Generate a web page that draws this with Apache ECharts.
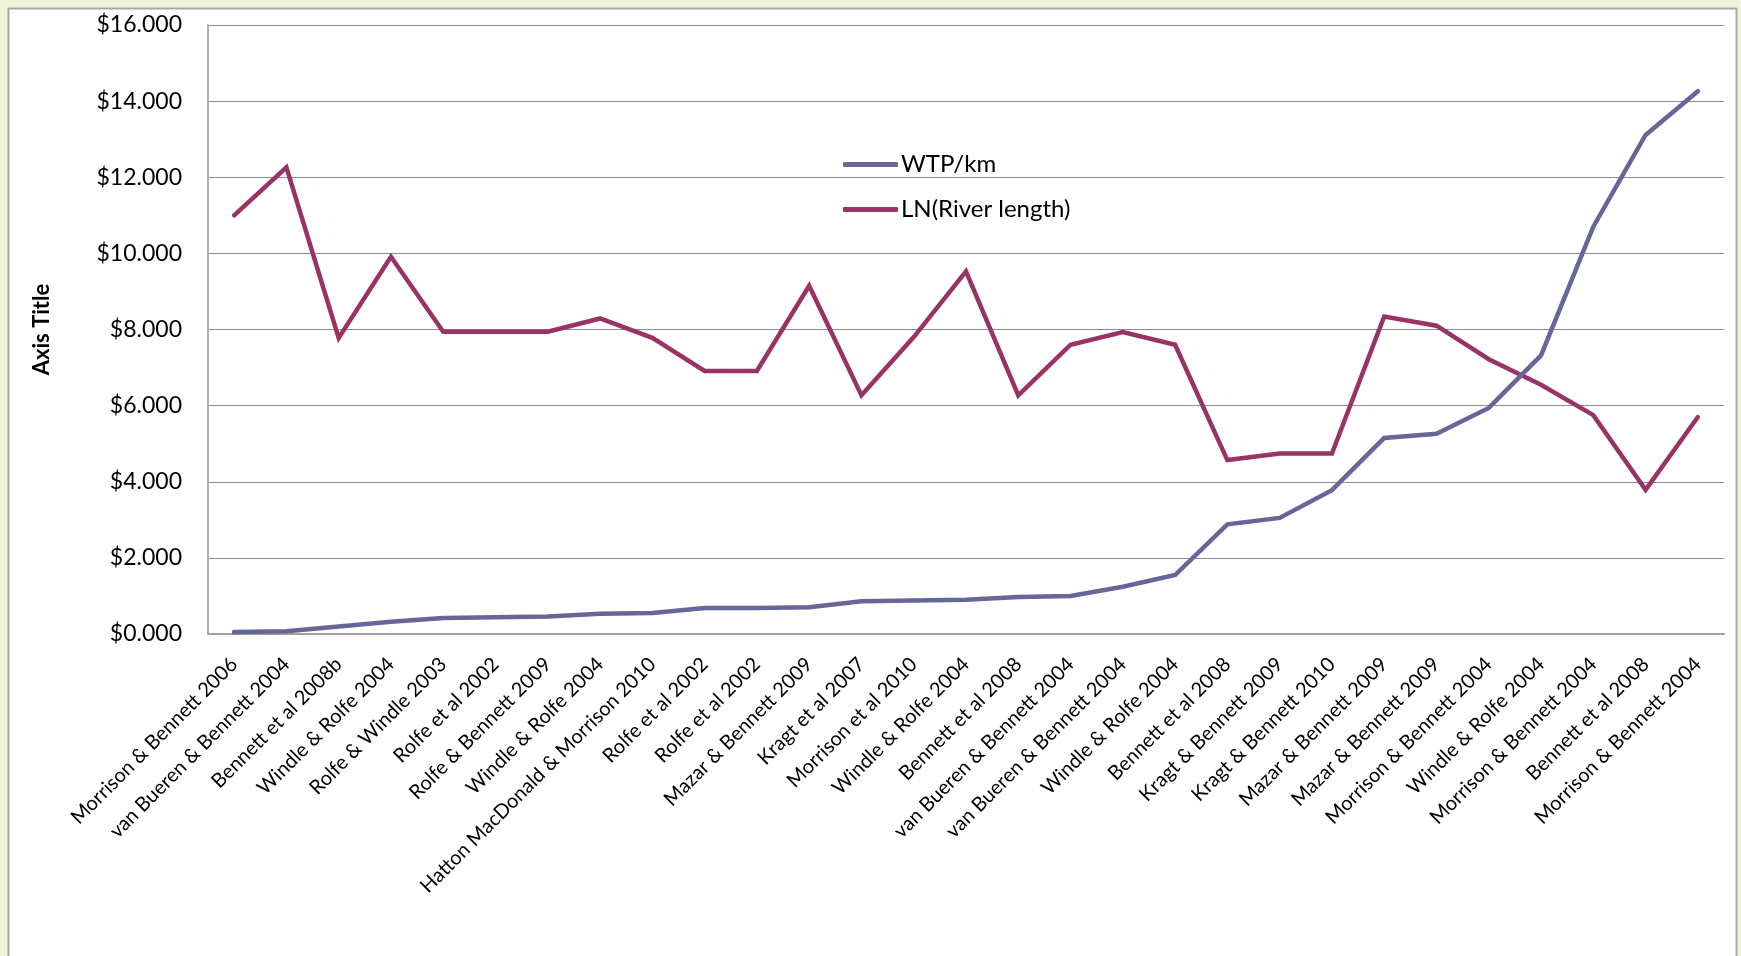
<!DOCTYPE html>
<html>
<head>
<meta charset="utf-8">
<script src="https://cdn.jsdelivr.net/npm/echarts@6/dist/echarts.min.js"></script>
<style>
  html, body { margin: 0; padding: 0; background: #EFF4D8; }
  #chart { width: 1741px; height: 956px; }
</style>
</head>
<body>
<div id="chart"></div>
<script>
// Studies, ordered by willingness to pay per km
const studies = [
  'Morrison & Bennett 2006', 'van Bueren & Bennett 2004', 'Bennett et al 2008b',
  'Windle & Rolfe 2004', 'Rolfe & Windle 2003', 'Rolfe et al 2002',
  'Rolfe & Bennett 2009', 'Windle & Rolfe 2004', 'Hatton MacDonald & Morrison 2010',
  'Rolfe et al 2002', 'Rolfe et al 2002', 'Mazar & Bennett 2009',
  'Kragt et al 2007', 'Morrison et al 2010', 'Windle & Rolfe 2004',
  'Bennett et al 2008', 'van Bueren & Bennett 2004', 'van Bueren & Bennett 2004',
  'Windle & Rolfe 2004', 'Bennett et al 2008', 'Kragt & Bennett 2009',
  'Kragt & Bennett 2010', 'Mazar & Bennett 2009', 'Mazar & Bennett 2009',
  'Morrison & Bennett 2004', 'Windle & Rolfe 2004', 'Morrison & Bennett 2004',
  'Bennett et al 2008', 'Morrison & Bennett 2004'
];

const wtpPerKm = [
  0.05, 0.07, 0.20, 0.32, 0.42, 0.44, 0.46, 0.53, 0.55,
  0.68, 0.68, 0.70, 0.86, 0.88, 0.90, 0.97, 1.00, 1.24,
  1.55, 2.88, 3.05, 3.78, 5.15, 5.26, 5.94, 7.32, 10.70,
  13.11, 14.26
];

const lnRiverLength = [
  11.00, 12.26, 7.78, 9.91, 7.94, 7.94, 7.94, 8.29, 7.78,
  6.91, 6.91, 9.15, 6.27, 7.80, 9.53, 6.27, 7.60, 7.93,
  7.60, 4.57, 4.74, 4.74, 8.34, 8.10, 7.22, 6.55, 5.75,
  3.79, 5.70
];

const yTicks = { min: 0, max: 16, interval: 2 };

const FONT = 'Lato, "Open Sans", sans-serif';

const chart = echarts.init(document.getElementById('chart'), null, { renderer: 'canvas' });

chart.setOption({
  backgroundColor: '#EFF4D8',
  animation: false,
  graphic: [{
    type: 'rect',
    z: -10,
    shape: { x: 8.5, y: 8.5, width: 1728, height: 980 },
    style: { fill: '#FFFFFF', stroke: '#A8A8A8', lineWidth: 2 }
  }],
  legend: {
    orient: 'vertical',
    left: 838,
    top: 146,
    itemWidth: 55,
    itemHeight: 5,
    itemGap: 18,
    icon: 'roundRect',
    textStyle: { fontFamily: FONT, fontSize: 24, color: '#000', lineHeight: 27, padding: [0, 0, 0, -2] },
    data: ['WTP/km', 'LN(River length)']
  },
  grid: { left: 208, top: 25, right: 17, bottom: 322, containLabel: false },
  xAxis: {
    type: 'category',
    data: studies,
    boundaryGap: true,
    axisLine: { lineStyle: { color: '#A0A0A0', width: 2 } },
    axisTick: { show: false },
    axisLabel: {
      interval: 0,
      rotate: 45,
      margin: 27,
      fontFamily: FONT,
      fontSize: 20,
      color: '#000'
    }
  },
  yAxis: {
    type: 'value',
    min: yTicks.min,
    max: yTicks.max,
    interval: yTicks.interval,
    name: 'Axis Title',
    nameLocation: 'middle',
    nameRotate: 90,
    nameGap: 155,
    nameTextStyle: { fontFamily: FONT, fontSize: 22, fontWeight: 'bold', color: '#000' },
    axisLine: { show: true, lineStyle: { color: '#B0B0B0', width: 2 } },
    axisTick: { show: false },
    splitLine: { lineStyle: { color: '#8C8C8C', width: 1 } },
    axisLabel: {
      margin: 26,
      fontFamily: FONT,
      fontSize: 23,
      color: '#000',
      formatter: v => '$' + v.toFixed(3)
    }
  },
  series: [
    {
      name: 'WTP/km',
      type: 'line',
      data: wtpPerKm,
      symbol: 'none',
      color: '#666699',
      lineStyle: { color: '#666699', width: 4.5, cap: 'round', join: 'miter' },
      z: 3
    },
    {
      name: 'LN(River length)',
      type: 'line',
      data: lnRiverLength,
      symbol: 'none',
      color: '#993366',
      lineStyle: { color: '#993366', width: 4.5, cap: 'round', join: 'miter' },
      z: 2
    }
  ]
});
</script>
</body>
</html>
